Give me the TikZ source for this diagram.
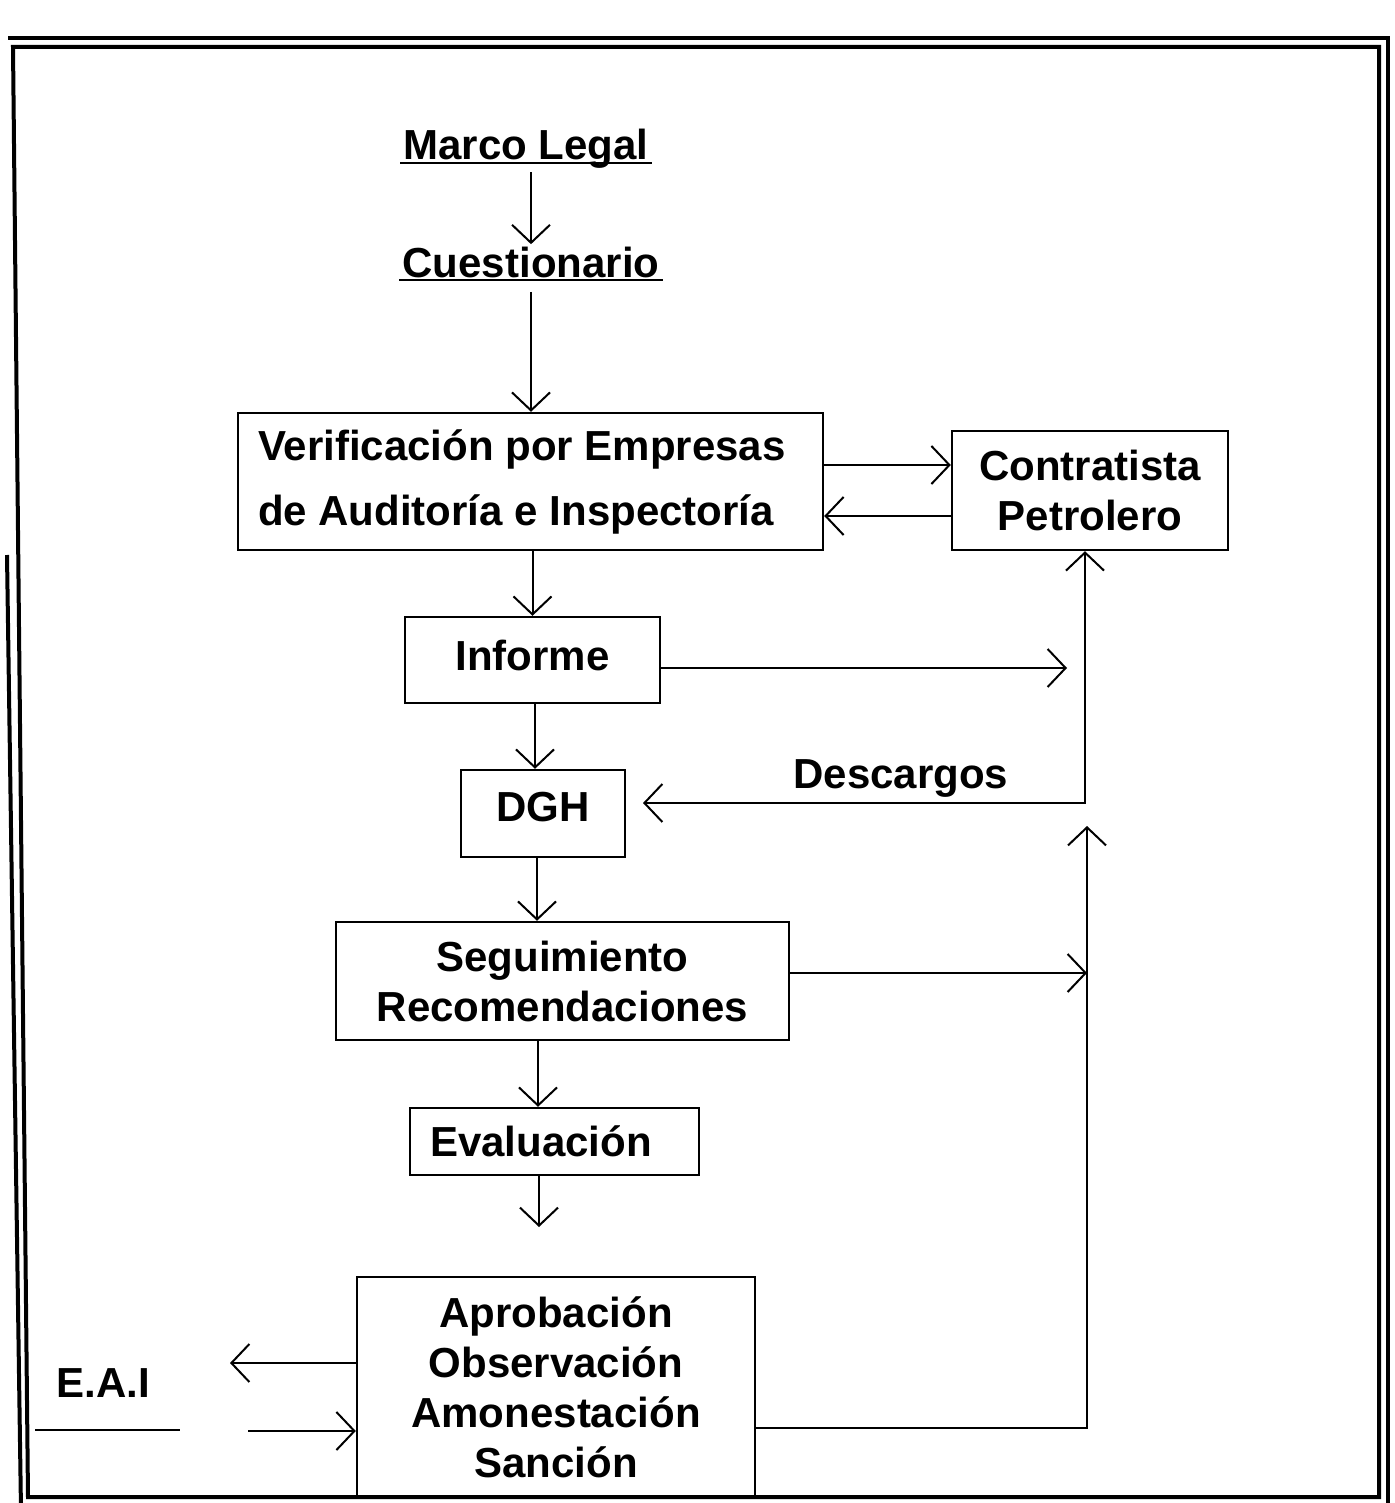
\documentclass[tikz,border=0pt]{standalone}
\usepackage{fontspec}
\setmainfont{Liberation Sans}
\usetikzlibrary{arrows.meta}
\newcommand\fsz{\fontsize{21}{25}\selectfont\bfseries}
\newcommand\fszw{\fontsize{21}{32.5}\selectfont\bfseries}
\begin{document}
\begin{tikzpicture}[x=0.5pt,y=-0.5pt,
  >={Straight Barb[length=9pt,width=19pt]},
  arr/.style={->, line width=1pt},
  dblarr/.style={<->, line width=1pt},
  plain/.style={line width=1pt},
  box/.style={draw, line width=1.2pt, inner sep=0pt, font=\fsz, align=center},
  lbl/.style={font=\fsz, inner sep=1.5pt},
  frameline/.style={line width=2pt}]
\useasboundingbox (0,0) rectangle (1394,1503);
\fill[white] (0,0) rectangle (1394,1503);
\clip (0,0) rectangle (1394,1503);
% double frame
\draw[frameline] (8,38) -- (1388,38) -- (1388,1510);
\draw[frameline] (7,555) -- (21,1510);
\draw[frameline] (28,1497) -- (13,47) -- (1379,47) -- (1379,1497) -- cycle;

% titles
\node[lbl, anchor=base] (marco) at (526,160) {Marco Legal};
\draw[plain] ([yshift=-1.5pt]marco.base west) -- ([yshift=-1.5pt]marco.base east);
\node[lbl, anchor=base] (cuest) at (531,278) {Cuestionario};
\draw[plain] ([yshift=-1pt]cuest.base west) -- ([yshift=-1pt]cuest.base east);

% boxes
\node[box, font=\fszw, align=flush left, text width=272.5pt, inner xsep=10pt,
      minimum width=292.5pt, minimum height=68.5pt] (verif) at (530.5,481.5)
  {Verificación por Empresas\\de Auditoría e Inspectoría};
\node[box, minimum width=138pt, minimum height=59.5pt] (contr) at (1090,490.5)
  {Contratista\\Petrolero};
\node[box, minimum width=127.5pt, minimum height=43pt, text depth=5pt] (inf) at (532.5,660) {Informe};
\node[box, minimum width=82pt, minimum height=43.5pt, text depth=6.5pt] (dgh) at (543,813.5) {DGH};
\node[box, minimum width=226.5pt, minimum height=59pt] (seg) at (562.5,981)
  {Seguimiento\\Recomendaciones};
\node[box, align=flush left, text width=124.5pt, inner xsep=10pt,
      minimum width=144.5pt, minimum height=33.5pt] (eval) at (554.5,1141.5) {Evaluación};
\node[box, minimum width=199pt, minimum height=110pt] (apr) at (556,1387)
  {Aprobación\\Observación\\Amonestación\\Sanción};

\node[lbl, anchor=base west] (desc) at (790,788) {Descargos};
\node[lbl, anchor=base west] (eai) at (53,1397) {E.A.I};

% helper coordinates
\coordinate (infend) at (1067,668);
\coordinate (dghtip) at (643,803);
\coordinate (desccorner) at (1085,803);
\coordinate (segtip) at (1087,973);
\coordinate (aprcorner) at (1087,1428);
\coordinate (uptip) at (1087,826);
\coordinate (colA) at (538,0);
\coordinate (evalend) at (539,1227);
\coordinate (eaitip) at (230,1363);
\coordinate (ea1) at (35,1430);
\coordinate (ea2) at (180,1430);
\coordinate (ea3) at (248,1431);

% connectors
\draw[arr] (cuest.north |- marco.south) -- (cuest.north);
\draw[arr, shorten <=5pt] (cuest.south) -- (cuest.south |- verif.north);
\draw[arr] ([yshift=8.25pt]verif.east) -- ([yshift=8.25pt]verif.east -| contr.west);
\draw[arr] ([yshift=-17.25pt]verif.east -| contr.west) -- ([yshift=-17.25pt]verif.east);
\draw[arr] (inf.north |- verif.south) -- (inf.north);
\draw[arr] (inf.east |- infend) -- (infend);
\draw[dblarr] (dghtip) -- (desccorner) -- (desccorner |- contr.south);
\draw[arr] ([xshift=-4pt]inf.south -| dgh.north) -- ([xshift=-4pt]dgh.north);
\draw[arr] ([xshift=-3pt]dgh.south) -- ([xshift=-3pt]dgh.south |- seg.north);
\draw[arr] (seg.east |- segtip) -- (segtip);
\draw[arr] (apr.east |- aprcorner) -- (aprcorner) -- (uptip);
\draw[arr] (seg.south -| colA) -- (eval.north -| colA);
\draw[arr] (eval.south -| evalend) -- (evalend);
\draw[arr] (apr.west |- eaitip) -- (eaitip);
\draw[plain] (ea1) -- (ea2);
\draw[arr] (ea3) -- (ea3 -| apr.west);
\end{tikzpicture}
\end{document}
